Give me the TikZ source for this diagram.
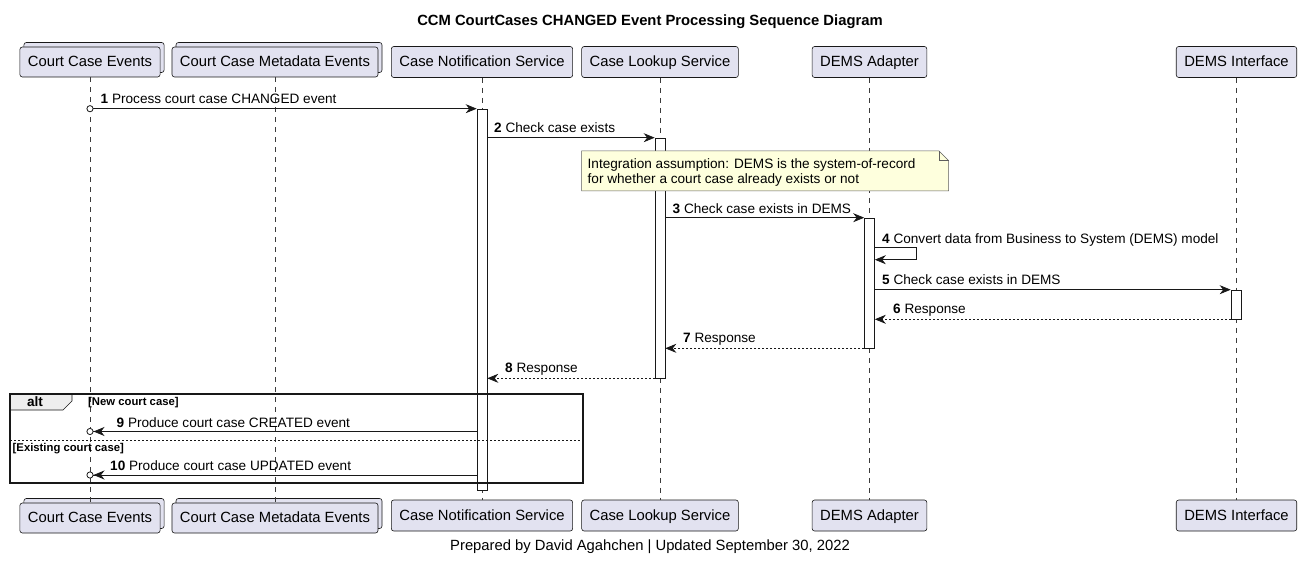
\documentclass[tikz,border=0pt]{standalone}
\usepackage{fontspec}
\setmainfont{Liberation Sans}
\usetikzlibrary{arrows.meta,shadows}

\definecolor{linecol}{HTML}{181818}
\definecolor{partfill}{HTML}{E2E2F0}
\definecolor{notefill}{HTML}{FEFFDD}
\definecolor{tabfill}{HTML}{EEEEEE}
\newcommand{\partfont}{\fontsize{14.8}{17}\selectfont}
\newcommand{\msgfont}{\fontsize{13.6}{15}\selectfont}
\newcommand{\guardfont}{\fontsize{11.3}{13}\selectfont\bfseries}

\begin{document}
\begin{tikzpicture}[x=1pt,y=-1pt,
    party/.style={draw=linecol, fill=partfill, rounded corners=2.5pt, line width=0.6pt,
                  minimum height=31, inner xsep=8pt, inner ysep=0pt, text height=10.6pt, text depth=1pt, font=\partfont},
    coll/.style={party, minimum height=30, copy shadow={shadow xshift=4pt, shadow yshift=4.5pt}},
    lifeline/.style={draw=linecol!85, line width=0.5pt, dash pattern=on 5pt off 5pt},
    act/.style={draw=linecol, fill=white, line width=0.6pt, minimum width=10, inner sep=0pt},
    msg/.style={draw=linecol, line width=0.8pt, -{Stealth[length=11pt,width=9pt,inset=3.5pt]}},
    reply/.style={msg, dash pattern=on 2pt off 2pt},
    fromcirc/.style={msg, {Circle[length=7pt,fill=white,line width=0.8pt]}-{Stealth[length=11pt,width=9pt,inset=3.5pt]}, shorten <=-3.5pt},
    tocirc/.style={msg, -{Stealth[length=11pt,width=9pt,inset=3.5pt] Circle[length=7pt,fill=white,line width=0.8pt]}, shorten >=-3.5pt},
    lbl/.style={anchor=base west, inner sep=0pt, font=\msgfont}]
    \fill [white] (0,0) rectangle (1299,561);
    \useasboundingbox (0,0) rectangle (1299,561);
    % title
    \node [font=\partfont\bfseries] (title) at (650,22) {CCM CourtCases CHANGED Event Processing Sequence Diagram};
    % participants, top and bottom
    \node [coll] (cceT) at (90,62) {Court Case Events};
    \node [coll] (ccmT) at (275,62) {Court Case Metadata Events};
    \node [party] (cnsT) at (482,62) {Case Notification Service};
    \node [party] (clsT) at (660,62) {Case Lookup Service};
    \node [party] (daT) at (869.5,62) {DEMS Adapter};
    \node [party] (diT) at (1236.5,62) {DEMS Interface};
    \node [coll] (cceB) at (90,518) {Court Case Events};
    \node [coll] (ccmB) at (275,518) {Court Case Metadata Events};
    \node [party] (cnsB) at (482,515.5) {Case Notification Service};
    \node [party] (clsB) at (660,515.5) {Case Lookup Service};
    \node [party] (daB) at (869.5,515.5) {DEMS Adapter};
    \node [party] (diB) at (1236.5,515.5) {DEMS Interface};
    % lifelines
    \foreach \p in {cce,ccm,cns,cls,da,di}
        \draw [lifeline] (\p T.south) -- (\p B.north);
    % activations
    \node [act, minimum height=381] (acns) at (482,299.5) {};
    \node [act, minimum height=240] (acls) at (660,258) {};
    \node [act, minimum height=130] (ada) at (869.5,283) {};
    \node [act, minimum height=29] (adi) at (1236,304.5) {};
    % messages
    \draw [fromcirc] (cceT |- acns.north) -- (acns.north west);
    \node [lbl] (l1) at (100.5,104) {\textbf{1} Process court case CHANGED event};
    \draw [msg] (acns.east |- acls.north) -- (acls.north west);
    \node [lbl] (l2) at (494,133) {\textbf{2} Check case exists};
    \draw [msg] (acls.east |- ada.north) -- (ada.north west);
    \node [lbl] (l3) at (672.5,213.5) {\textbf{3} Check case exists in DEMS};
    \draw [msg] ([yshift=-29.5pt]ada.north east) -- ++(42,0) -- ++(0,12.5) -- ++(-42,0);
    \node [lbl] (l4) at (882,244) {\textbf{4} Convert data from Business to System (DEMS) model};
    \draw [msg] (ada.east |- adi.north) -- (adi.north west);
    \node [lbl] (l5) at (882,285) {\textbf{5} Check case exists in DEMS};
    \draw [reply] (adi.south west) -- (ada.east |- adi.south);
    \node [lbl] (l6) at (893,314) {\textbf{6} Response};
    \draw [reply] (ada.south west) -- (acls.east |- ada.south);
    \node [lbl] (l7) at (683,343) {\textbf{7} Response};
    \draw [reply] (acls.south west) -- (acns.east |- acls.south);
    \node [lbl] (l8) at (505,373) {\textbf{8} Response};
    % note
    \draw [draw=linecol!70, fill=notefill, line width=0.5pt] (581.5,151) -- (939,151) -- (948.5,160.5) -- (948.5,191) -- (581.5,191) -- cycle;
    \draw [draw=linecol!70, line width=0.5pt] (939,151) -- (939,160.5) -- (948.5,160.5);
    \node [anchor=west, align=left, inner sep=0pt, font=\msgfont] (note) at (587.5,172)
        {Integration assumption: DEMS is the system-of-record\\for whether a court case already exists or not};
    % alt frame
    \draw [fill=tabfill, draw=linecol, line width=0.6pt] (10,394) -- (72,394) -- (72,401) -- (63,410) -- (10,410) -- cycle;
    \node [font=\fontsize{13.6}{15}\selectfont\bfseries] (alt) at (35,402) {alt};
    \node [anchor=base west, inner sep=0pt, font=\guardfont] (g1) at (88,406) {[New court case]};
    \draw [msg, tocirc] (acns.west |- 0,431.5) -- (cceT |- 0,431.5);
    \node [lbl] (l9) at (116.5,427) {\textbf{9} Produce court case CREATED event};
    \draw [draw=linecol, line width=0.5pt, dash pattern=on 2pt off 2pt] (10,440) -- (583,440);
    \node [anchor=base west, inner sep=0pt, font=\guardfont] (g2) at (12.5,451) {[Existing court case]};
    \draw [msg, tocirc] (acns.west |- 0,475) -- (cceT |- 0,475);
    \node [lbl] (l10) at (110,470) {\textbf{10} Produce court case UPDATED event};
    \draw [draw=linecol, line width=1.5pt] (10,394) rectangle (583,483);
    % footer
    \node [font=\partfont] (foot) at (650,547) {Prepared by David Agahchen | Updated September 30, 2022};
\end{tikzpicture}
\end{document}
